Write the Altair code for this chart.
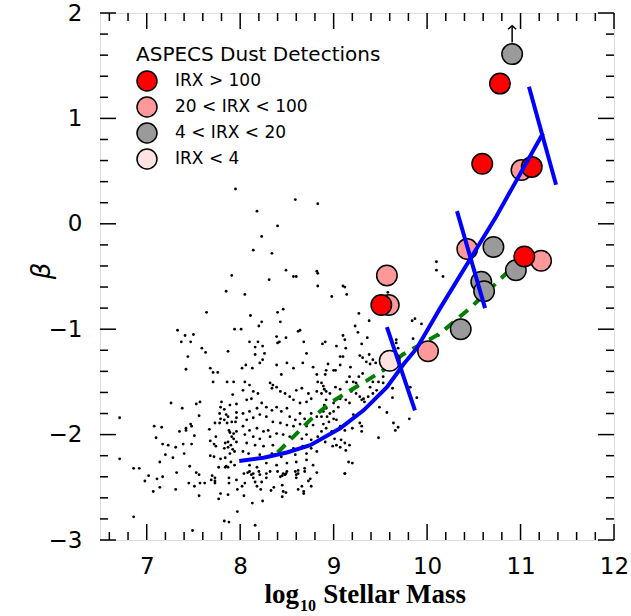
import altair as alt
import pandas as pd
import numpy as np

FONT = "DejaVu Sans"

# ---------------- field galaxies (log10 M*, beta) ----------------
field_upper = [
    (7.95, 0.33), (7.91, -0.49), (7.85, -0.64), (7.64, -0.84), (7.94, -1.00), (7.33, -1.01),
    (7.41, -1.06), (7.50, -1.05), (7.37, -1.12), (7.47, -1.12), (7.59, -1.18),
    (8.59, 0.23), (8.83, 0.19), (8.18, 0.12), (8.40, -0.02), (8.23, -0.12), (8.14, -0.25),
    (8.34, -0.28), (8.49, -0.44), (8.82, -0.45), (8.83, -0.47), (8.31, -0.53), (8.57, -0.50),
    (8.60, -0.50), (8.83, -0.59), (9.10, -0.59), (9.12, -0.60), (8.05, -0.67), (8.98, -0.69),
    (9.14, -0.67), (8.46, -0.81), (8.40, -0.84), (8.11, -0.87), (9.27, -0.85), (8.23, -0.93),
    (8.20, -0.97), (8.43, -0.93), (9.38, -0.92), (9.23, -0.97), (8.01, -1.00), (8.62, -1.02),
    (8.64, -1.01), (9.26, -1.03), (8.39, -1.07), (8.49, -1.08), (9.10, -1.06), (9.12, -1.10),
    (9.36, -1.08), (8.10, -1.12), (8.19, -1.12), (8.42, -1.12), (8.40, -1.13), (8.68, -1.12),
    (8.91, -1.12), (8.88, -1.14), (9.03, -1.16), (9.13, -1.18), (9.30, -1.14), (8.16, -1.17),
    (8.24, -1.16),
    (10.10, -0.36), (10.10, -0.44), (10.17, -0.50), (9.58, -0.65), (9.84, -0.92), (9.87, -0.90),
    (9.94, -0.95), (9.67, -1.10), (9.67, -1.13), (9.85, -1.09), (9.69, -1.18), (10.12, -1.06),
]

field_left = [
    (7.44, -1.26), (7.63, -1.22), (7.87, -1.21), (7.42, -1.38), (7.68, -1.37), (7.71, -1.41),
    (7.76, -1.41), (7.71, -1.50), (7.86, -1.50), (7.93, -1.50), (7.92, -1.62), (7.26, -1.70),
    (7.38, -1.75), (7.53, -1.71), (7.57, -1.69), (7.56, -1.82), (7.80, -1.69), (7.79, -1.74),
    (7.83, -1.76), (7.89, -1.72), (7.96, -1.71), (7.78, -1.80), (7.85, -1.81), (7.96, -1.79),
    (6.71, -1.84), (7.79, -1.85), (7.83, -1.86), (7.87, -1.83), (7.73, -1.89), (7.78, -1.89),
    (7.86, -1.89), (7.91, -1.88), (7.96, -1.84), (7.95, -1.88), (7.08, -1.92), (7.16, -1.93),
    (7.47, -1.90), (7.48, -1.92), (7.42, -1.94), (7.42, -1.96), (7.35, -1.97), (7.67, -1.95),
    (7.88, -1.96), (7.89, -1.98), (7.93, -1.99), (7.96, -1.97), (7.51, -2.01), (7.10, -2.03),
    (7.74, -2.02), (7.91, -2.02), (7.93, -2.04), (7.96, -2.07), (7.68, -2.06), (7.17, -2.09),
    (7.23, -2.10), (7.31, -2.12), (7.39, -2.09), (7.48, -2.09), (7.72, -2.09), (7.74, -2.11),
    (7.84, -2.08), (7.87, -2.07), (7.90, -2.10), (7.83, -2.13), (7.87, -2.12), (7.92, -2.14),
    (7.94, -2.16), (7.89, -2.18), (7.20, -2.19), (7.40, -2.18), (7.68, -2.20), (7.72, -2.21),
    (7.28, -2.22), (7.79, -2.23), (7.84, -2.22), (6.71, -2.23), (7.14, -2.26), (7.84, -2.31),
    (7.85, -2.30), (7.87, -2.31), (7.77, -2.31), (7.90, -2.26), (7.94, -2.29), (7.46, -2.30),
    (7.32, -2.36), (6.86, -2.32), (6.92, -2.32), (7.53, -2.36), (7.56, -2.38), (7.02, -2.39),
    (7.17, -2.40), (7.11, -2.42), (7.70, -2.39), (7.73, -2.41), (7.69, -2.43), (7.73, -2.44),
    (7.73, -2.46), (7.88, -2.41), (7.88, -2.46), (6.98, -2.44), (7.45, -2.46), (7.51, -2.49),
    (7.57, -2.46), (7.62, -2.46), (7.14, -2.50), (7.96, -2.43), (7.97, -2.52), (7.07, -2.54),
    (7.31, -2.52), (7.56, -2.58), (7.79, -2.56), (7.77, -2.61), (7.87, -2.57), (6.86, -2.78),
    (7.97, -2.73), (7.83, -2.82), (7.88, -2.83), (7.49, -2.91),
]

field_bottom = [
    (8.04, -2.37), (8.08, -2.36), (8.10, -2.35), (8.05, -2.46), (8.02, -2.49), (8.12, -2.38),
    (8.14, -2.41), (8.16, -2.45), (8.18, -2.49), (8.04, -2.58), (8.13, -2.65), (8.24, -2.63),
    (8.22, -2.52), (8.23, -2.45), (8.28, -2.41), (8.28, -2.37), (8.20, -2.35), (8.33, -2.53),
    (8.36, -2.50), (8.40, -2.35), (8.43, -2.40), (8.45, -2.39), (8.48, -2.38), (8.50, -2.35),
    (8.49, -2.37), (8.45, -2.48), (8.46, -2.54), (8.49, -2.55), (8.45, -2.59), (8.59, -2.35),
    (8.60, -2.38), (8.62, -2.37), (8.60, -2.41), (8.69, -2.35), (8.62, -2.52), (8.66, -2.49),
    (8.68, -2.54), (8.68, -2.56), (8.73, -2.44), (8.76, -2.49), (8.82, -2.36), (9.12, -2.37),
    (8.16, -2.86),
]

field_core_right = [
    (9.07, -1.26), (9.10, -1.26), (9.28, -1.25), (9.31, -1.27), (9.38, -1.24), (9.35, -1.31),
    (9.42, -1.29), (9.45, -1.32), (9.39, -1.33), (8.94, -1.33), (9.07, -1.34), (9.00, -1.39),
    (9.02, -1.39), (8.92, -1.39), (8.91, -1.43), (9.18, -1.36), (9.17, -1.45), (9.14, -1.50),
    (9.21, -1.50), (9.24, -1.51), (9.27, -1.45), (9.31, -1.42), (9.42, -1.50), (9.48, -1.50),
    (9.39, -1.55), (9.46, -1.58), (9.53, -1.45), (9.53, -1.51), (9.02, -1.55), (9.07, -1.57),
    (8.89, -1.54), (8.90, -1.57), (8.92, -1.59), (8.96, -1.61), (9.19, -1.59), (9.24, -1.61),
    (9.28, -1.64), (9.32, -1.66), (9.30, -1.67), (9.33, -1.69), (9.37, -1.64), (9.42, -1.61),
    (9.07, -1.66), (9.13, -1.67), (9.17, -1.70), (9.00, -1.70), (9.05, -1.74), (8.92, -1.75),
    (8.89, -1.78), (8.96, -1.80), (9.00, -1.78), (8.87, -1.83), (8.93, -1.83), (9.00, -1.85),
    (9.03, -1.86), (8.95, -1.88), (8.89, -1.90), (9.21, -1.81), (9.27, -1.80), (9.49, -1.74),
    (9.57, -1.79), (9.07, -1.92), (9.12, -1.96), (9.20, -1.94), (9.28, -1.89), (9.30, -1.92),
    (9.30, -1.97), (8.92, -1.94), (8.98, -1.97), (8.87, -1.97), (8.91, -2.07), (9.01, -2.04),
    (9.03, -2.10), (9.08, -2.05), (9.12, -2.08), (8.99, -2.11), (9.07, -2.12), (9.17, -2.10),
    (9.13, -2.15), (9.48, -2.03), (9.63, -1.56), (9.63, -1.65), (9.82, -1.55), (9.89, -1.65),
    (9.64, -1.89), (9.69, -1.93), (9.66, -1.96), (9.81, -1.85), (9.16, -2.26), (9.20, -2.27),
    (9.12, -2.37), (8.87, -1.51), (8.87, -1.61), (8.92, -1.67), (8.90, -1.72),
]

field_core_left = [
    (8.16, -1.24), (8.26, -1.23), (8.06, -1.34), (8.13, -1.37), (8.02, -1.37), (8.21, -1.32),
    (8.24, -1.29), (8.39, -1.34), (8.50, -1.32), (8.57, -1.37), (8.67, -1.32), (8.71, -1.23),
    (8.78, -1.36), (8.44, -1.43), (8.82, -1.43), (8.83, -1.50), (8.32, -1.51), (8.35, -1.53),
    (8.39, -1.55), (8.34, -1.56), (8.05, -1.50), (8.10, -1.53), (8.03, -1.58), (8.14, -1.59),
    (8.19, -1.61), (8.12, -1.66), (8.07, -1.67), (8.43, -1.59), (8.48, -1.61), (8.53, -1.64),
    (8.60, -1.58), (8.66, -1.56), (8.73, -1.61), (8.76, -1.66), (8.82, -1.59), (8.71, -1.69),
    (8.64, -1.70), (8.57, -1.67), (8.23, -1.70), (8.28, -1.74), (8.18, -1.75), (8.10, -1.78),
    (8.03, -1.80), (8.34, -1.77), (8.39, -1.74), (8.44, -1.78), (8.50, -1.75), (8.21, -1.81),
    (8.28, -1.83), (8.14, -1.84), (8.07, -1.86), (8.53, -1.83), (8.59, -1.86), (8.64, -1.80),
    (8.69, -1.85), (8.76, -1.80), (8.82, -1.83), (8.35, -1.88), (8.43, -1.89), (8.50, -1.91),
    (8.57, -1.92), (8.64, -1.90), (8.71, -1.92), (8.78, -1.91), (8.03, -1.92), (8.10, -1.96),
    (8.18, -1.94), (8.25, -1.97), (8.30, -1.96), (8.05, -2.00), (8.14, -2.02), (8.21, -2.04),
    (8.32, -2.02), (8.39, -1.99), (8.46, -2.00), (8.53, -2.02), (8.60, -1.99), (8.66, -2.04),
    (8.71, -2.00), (8.76, -2.05), (8.83, -2.02), (8.07, -2.08), (8.16, -2.10), (8.25, -2.11),
    (8.35, -2.10), (8.46, -2.11), (8.57, -2.13), (8.67, -2.11), (8.76, -2.13), (8.10, -2.29),
    (8.18, -2.31), (8.28, -2.27), (8.39, -2.29), (8.50, -2.27), (8.60, -2.26), (8.71, -2.24),
    (8.78, -2.29), (8.21, -2.38), (8.32, -2.35), (8.46, -2.37), (8.62, -2.34), (8.75, -2.42),
    (8.14, -2.37), (8.69, -2.32), (8.03, -2.16), (8.09, -2.18), (8.21, -2.19), (8.34, -2.18),
    (8.44, -2.21), (8.59, -2.19), (8.71, -2.18), (8.82, -2.16),
]

# ---------------- ASPECS dust detections ----------------
categories = ["IRX > 100", "20 < IRX < 100", "4 < IRX < 20", "IRX < 4"]
cat_colors = ["#ff0000", "#ff9999", "#9a9a9a", "#ffe3e3"]

aspecs_mass = [10.78, 10.59, 11.12, 11.04, 9.51,
               11.01, 10.43, 11.22, 9.57, 9.59, 10.01,
               10.91, 10.71, 10.95, 10.58, 10.61, 10.36,
               9.60]
aspecs_beta = [1.33, 0.57, 0.54, -0.31, -0.77,
               0.51, -0.24, -0.35, -0.49, -0.77, -1.21,
               1.61, -0.22, -0.44, -0.55, -0.64, -1.00,
               -1.30]
aspecs_class = ["IRX > 100"] * 5 + ["20 < IRX < 100"] * 6 + ["4 < IRX < 20"] * 6 + ["IRX < 4"]
z_order = {"20 < IRX < 100": 1, "4 < IRX < 20": 2, "IRX > 100": 3, "IRX < 4": 4}

# lower-limit arrow on the top grey source
arrow_mass = [10.91]
arrow_from = [1.72]
arrow_to = [1.88]

# ---------------- relations ----------------
blue_mass = [7.99, 8.25, 8.50, 8.75, 9.07, 9.32, 9.57, 9.75, 9.89, 10.14, 10.74, 11.24]
blue_beta = [-2.25, -2.22, -2.17, -2.10, -1.94, -1.77, -1.55, -1.33, -1.18, -0.80, 0.07, 0.86]

bar_seg = [1, 1, 2, 2, 3, 3]
bar_mass = [9.57, 9.87, 10.32, 10.62, 11.09, 11.38]
bar_beta = [-0.98, -1.77, 0.12, -0.80, 1.30, 0.37]

green_mass = [8.40, 8.75, 8.96, 9.16, 9.35, 9.53, 9.74, 10.14, 10.46, 10.86]
green_beta = [-2.17, -1.86, -1.70, -1.59, -1.49, -1.39, -1.24, -1.04, -0.80, -0.46]

# ---------------- axis ticks ----------------
x_major = [7, 8, 9, 10, 11, 12]
y_major = [-3, -2, -1, 0, 1, 2]
x_minor = [round(v, 1) for v in np.arange(6.6, 12.0, 0.2) if abs(v - round(v)) > 1e-6]
y_minor = [round(v, 1) for v in np.arange(-2.8, 2.0, 0.2) if abs(v - round(v)) > 1e-6]

# ---------------- build ----------------
W, H = 514, 527
xs = alt.Scale(domain=[6.5, 12], nice=False, zero=False)
ys = alt.Scale(domain=[-3, 2], nice=False, zero=False)
x_axis = alt.Axis(values=x_major, ticks=False, domain=False, grid=False, title=None,
                  labelFont=FONT, labelFontSize=23, labelColor="black", labelPadding=15,
                  labelFlush=False)
y_axis = alt.Axis(values=y_major, ticks=False, domain=False, grid=False, title=None,
                  labelFont=FONT, labelFontSize=23, labelColor="black", labelPadding=18,
                  labelFlush=False)


def X(f):
    return alt.X(f, type="quantitative", scale=xs, axis=x_axis)


def Y(f):
    return alt.Y(f, type="quantitative", scale=ys, axis=y_axis)


field_all = field_upper + field_left + field_bottom + field_core_right + field_core_left
field_df = pd.DataFrame(field_all, columns=["mass", "beta"])

dots = alt.Chart(field_df).mark_circle(size=8, color="black", opacity=1).encode(
    x=X("mass"), y=Y("beta"))

green_df = pd.DataFrame({"mass": green_mass, "beta": green_beta, "i": range(len(green_mass))})
green = alt.Chart(green_df).mark_line(color="#008000", strokeWidth=4, strokeDash=[11, 8]).encode(
    x=X("mass"), y=Y("beta"), order="i:Q")

asp_df = pd.DataFrame({"mass": aspecs_mass, "beta": aspecs_beta, "cls": aspecs_class})
asp_df["z"] = asp_df["cls"].map(z_order)
circles = alt.Chart(asp_df).mark_circle(size=420, stroke="black", strokeWidth=1.5, opacity=1).encode(
    x=X("mass"), y=Y("beta"),
    color=alt.Color("cls:N", scale=alt.Scale(domain=categories, range=cat_colors),
                    legend=alt.Legend(orient="none", legendX=36, legendY=32,
                                      title="ASPECS Dust Detections", titleFont=FONT,
                                      titleFontSize=20, titleFontWeight="normal", titleColor="black",
                                      titleLimit=500, titlePadding=5, labelFont=FONT,
                                      labelFontSize=17, labelLimit=400,
                                      labelColor="black", labelOffset=17, symbolType="circle",
                                      symbolSize=400, symbolStrokeColor="black",
                                      symbolStrokeWidth=1.5, symbolOpacity=1, rowPadding=0,
                                      padding=0)),
    order=alt.Order("z:Q"))

blue_df = pd.DataFrame({"mass": blue_mass, "beta": blue_beta, "i": range(len(blue_mass))})
blue = alt.Chart(blue_df).mark_line(color="#0000ff", strokeWidth=4).encode(
    x=X("mass"), y=Y("beta"), order="i:Q")

bar_df = pd.DataFrame({"mass": bar_mass, "beta": bar_beta, "seg": bar_seg})
bars = alt.Chart(bar_df).mark_line(color="#0000ff", strokeWidth=4).encode(
    x=X("mass"), y=Y("beta"), detail="seg:N")

arr_df = pd.DataFrame({"mass": arrow_mass, "b0": arrow_from, "b1": arrow_to})
arrow_shaft = alt.Chart(arr_df).mark_rule(color="black", strokeWidth=1.5).encode(
    x=X("mass"), y=Y("b0"), y2="b1")
arrow_head = alt.Chart(arr_df).mark_point(shape="M-1,0.9L0,0L1,0.9", filled=False, size=64,
                                          color="black", strokeWidth=1.5, opacity=1).encode(
    x=X("mass"), y=Y("b1"))

tick_layers = []
for vals, ln in [(x_major, 16), (x_minor, 8)]:
    d = pd.DataFrame({"v": vals})
    tick_layers.append(alt.Chart(d).mark_rule(color="black", strokeWidth=1.5).encode(
        x=X("v"), y=alt.value(H), y2=alt.value(H - ln)))
    tick_layers.append(alt.Chart(d).mark_rule(color="black", strokeWidth=1.5).encode(
        x=X("v"), y=alt.value(0), y2=alt.value(ln)))
for vals, ln in [(y_major, 16), (y_minor, 8)]:
    d = pd.DataFrame({"v": vals})
    tick_layers.append(alt.Chart(d).mark_rule(color="black", strokeWidth=1.5).encode(
        y=Y("v"), x=alt.value(0), x2=alt.value(ln)))
    tick_layers.append(alt.Chart(d).mark_rule(color="black", strokeWidth=1.5).encode(
        y=Y("v"), x=alt.value(W), x2=alt.value(W - ln)))

title_df = pd.DataFrame({"t": ["log", "10", "Stellar Mass", "β"]})
t_log = alt.Chart(title_df).transform_filter(alt.datum.t == "log").mark_text(
    font="Liberation Serif", fontWeight="bold", fontSize=27, align="right", baseline="alphabetic",
    color="black").encode(x=alt.value(199), y=alt.value(590), text="t:N")
t_sub = alt.Chart(title_df).transform_filter(alt.datum.t == "10").mark_text(
    font="Liberation Serif", fontWeight="bold", fontSize=16, align="left", baseline="alphabetic",
    color="black").encode(x=alt.value(200), y=alt.value(598), text="t:N")
t_main = alt.Chart(title_df).transform_filter(alt.datum.t == "Stellar Mass").mark_text(
    font="Liberation Serif", fontWeight="bold", fontSize=27, align="right", baseline="alphabetic",
    color="black").encode(x=alt.value(366), y=alt.value(590), text="t:N")
t_beta = alt.Chart(title_df).transform_filter(alt.datum.t == "β").mark_text(
    font="DejaVu Sans", fontStyle="italic", fontSize=26, align="center", baseline="middle",
    angle=270, color="black").encode(x=alt.value(-58), y=alt.value(258), text="t:N")

chart = alt.layer(dots, green, circles, blue, bars, arrow_shaft, arrow_head,
                  *tick_layers, t_log, t_sub, t_main, t_beta).properties(
    width=W, height=H,
    padding={"left": 100, "top": 13, "right": 17, "bottom": 76},
    autosize=alt.AutoSizeParams(type="none"),
).configure_view(stroke="black", strokeWidth=2).configure(background="white")

chart.save("out.html", embed_options={"renderer": "svg", "actions": False})
